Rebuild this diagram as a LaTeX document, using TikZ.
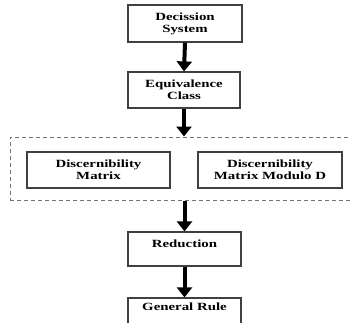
\documentclass[tikz,border=0pt]{standalone}
\usepackage{fontspec}
\setmainfont{Liberation Serif}[FakeStretch=1.35]
\usepackage{tikz}
\usetikzlibrary{arrows.meta, positioning, calc}

\begin{document}
\begin{tikzpicture}[x=1pt, y=-1pt,
    box/.style={draw=black!75, line width=1.2pt, fill=white, minimum height=36pt, inner sep=0pt,
        align=center, font=\bfseries\fontsize{11}{12}\selectfont},
    group/.style={draw=black!55, dashed, dash pattern=on 4pt off 3pt, line width=1pt, inner sep=0pt},
    flow/.style={line width=4pt, -{Triangle[width=15pt, length=10pt]}}]
    \useasboundingbox (0,0) rectangle (351,322);

    % Dashed group round the two matrices
    \node[group, minimum width=344pt, minimum height=63pt] (grp) at (182,168.5) {};

    % Steps
    \node[box, minimum width=114pt, minimum height=37pt] (ds) at (185,23.5) {Decission\\System};
    \node[box, minimum width=112pt] (eq) at (184,90) {Equivalence\\Class};
    \node[box, minimum width=143pt] (dm) at (98.5,170) {Discernibility\\Matrix};
    \node[box, minimum width=144pt] (dmd) at (270,170) {Discernibility\\Matrix Modulo D};
    \node[box, minimum width=113pt, minimum height=34pt, text depth=10pt] (red) at (184.5,249) {Reduction};
    \node[box, minimum width=113pt, minimum height=40pt, text depth=22pt] (gr) at (184.5,318) {General Rule};

    % Arrows
    \draw[flow] (ds.south) -- (eq.north);
    \draw[flow] (eq.south) -- (eq.south |- grp.north);
    \draw[flow] (red.north |- grp.south) -- (red.north);
    \draw[flow] (red.south) -- (gr.north);
\end{tikzpicture}
\end{document}
